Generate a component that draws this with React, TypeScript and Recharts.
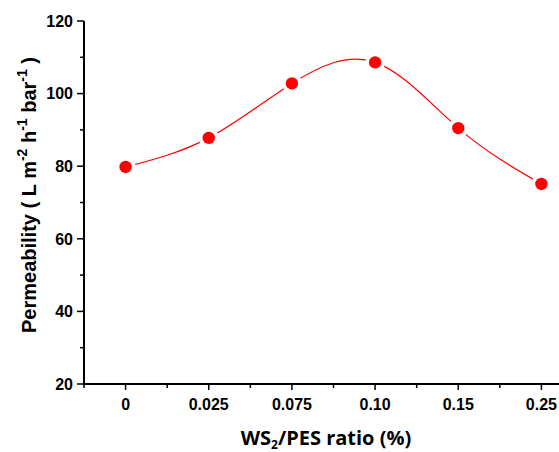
import React from 'react';
import { LineChart, Line, XAxis, YAxis } from 'recharts';

const categories: string[] = ['0', '0.025', '0.075', '0.10', '0.15', '0.25'];
const permeability: number[] = [79.8, 87.8, 102.8, 108.6, 90.5, 75.1];
const xTicks: number[] = [-0.5, 0, 0.5, 1, 1.5, 2, 2.5, 3, 3.5, 4, 4.5, 5, 5.5];
const yTicks: number[] = [20, 30, 40, 50, 60, 70, 80, 90, 100, 110, 120];

const data = categories.map((c, i) => ({ i, label: c, value: permeability[i] }));

const FONT = '"Liberation Sans", Arial, sans-serif';

const XTick = (props: any) => {
  const { x, y, payload } = props;
  const v: number = payload.value;
  const isMajor = Number.isInteger(v);
  return (
    <g>
      <line x1={x} x2={x} y1={y} y2={y + (isMajor ? 6 : 4)} stroke="#000" strokeWidth={1.5} />
      {isMajor && v >= 0 && v < categories.length ? (
        <text x={x} y={y + 26} textAnchor="middle" fontFamily={FONT} fontWeight="bold" fontSize={16} fill="#000">
          {categories[v]}
        </text>
      ) : null}
    </g>
  );
};

const YTick = (props: any) => {
  const { x, y, payload } = props;
  const v: number = payload.value;
  const isMajor = v % 20 === 0;
  return (
    <g>
      <line x1={x - (isMajor ? 7 : 4)} x2={x} y1={y} y2={y} stroke="#000" strokeWidth={1.5} />
      {isMajor ? (
        <text x={x - 11} y={y + 5.8} textAnchor="end" fontFamily={FONT} fontWeight="bold" fontSize={16} fill="#000">
          {v}
        </text>
      ) : null}
    </g>
  );
};

const Dot = (props: any) => {
  const { cx, cy, index } = props;
  if (cx == null || cy == null) return null;
  return (
    <g key={`dot-${index}`}>
      <circle cx={cx} cy={cy} r={10} fill="#fff" />
      <circle cx={cx} cy={cy} r={6.2} fill="#ff0000" />
    </g>
  );
};

const YLabel = () => (
  <text
    transform="translate(36,195) rotate(-90)"
    textAnchor="middle"
    fontFamily={FONT}
    fontWeight="bold"
    fontSize={20}
    fill="#000"
  >
    <tspan>Permeability ( L m</tspan>
    <tspan fontSize={14} dy={-9}>-2</tspan>
    <tspan dy={9}> h</tspan>
    <tspan fontSize={14} dy={-9}>-1</tspan>
    <tspan dy={9}> bar</tspan>
    <tspan fontSize={14} dy={-9}>-1</tspan>
    <tspan dy={9}> )</tspan>
  </text>
);

const XLabel = () => (
  <text
    x={326}
    y={445}
    textAnchor="middle"
    fontFamily='"Open Sans", sans-serif'
    fontWeight="bold"
    fontSize={20}
    fill="#000"
  >
    <tspan>WS</tspan>
    <tspan fontSize={12} dy={4}>2</tspan>
    <tspan dy={-4}>/PES ratio (%)</tspan>
  </text>
);

export default function App() {
  return (
    <div style={{ position: 'absolute', left: 0, top: 0, width: 559, height: 452, overflow: 'hidden', background: '#fff' }}>
      <LineChart width={620} height={452} data={data} margin={{ top: 21, right: 37, bottom: 0, left: 0 }}>
        <XAxis
          dataKey="i"
          type="number"
          domain={[-0.5, 5.5]}
          ticks={xTicks}
          interval={0}
          allowDataOverflow
          height={68}
          tickSize={0}
          tickMargin={0}
          tickLine={false}
          axisLine={{ stroke: '#000', strokeWidth: 2 }}
          tick={<XTick />}
          label={<XLabel />}
        />
        <YAxis
          type="number"
          domain={[20, 120]}
          ticks={yTicks}
          interval={0}
          allowDataOverflow
          width={84}
          tickSize={0}
          tickMargin={0}
          tickLine={false}
          axisLine={{ stroke: '#000', strokeWidth: 2 }}
          tick={<YTick />}
          label={<YLabel />}
        />
        <Line
          dataKey="value"
          type="natural"
          stroke="#ff0000"
          strokeWidth={1.2}
          dot={<Dot />}
          activeDot={false}
          isAnimationActive={false}
        />
      </LineChart>
    </div>
  );
}
